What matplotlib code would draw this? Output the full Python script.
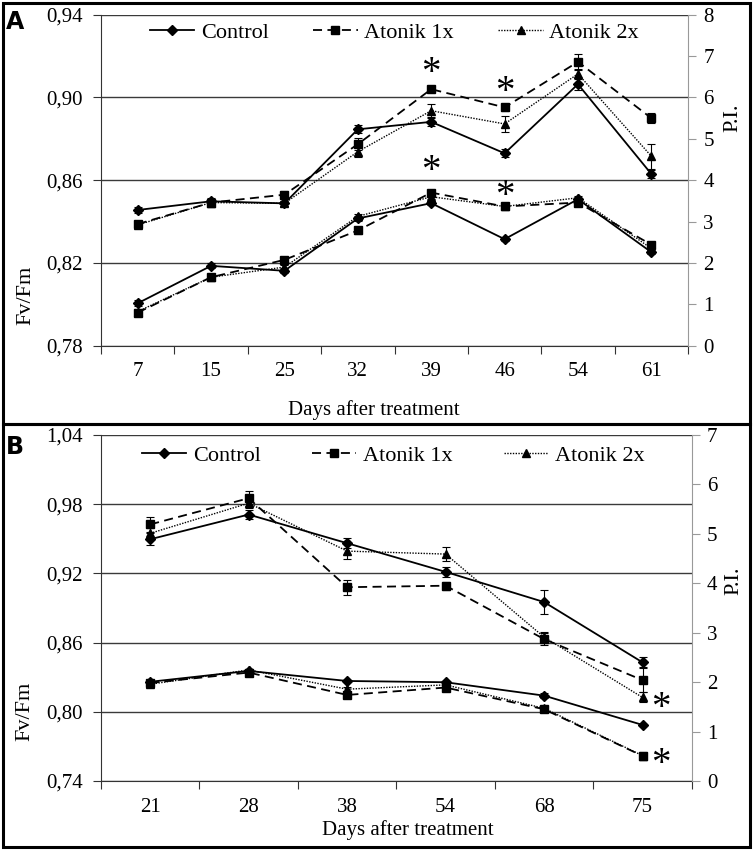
import matplotlib
matplotlib.use("Agg")
import matplotlib.pyplot as plt
from matplotlib.lines import Line2D
from matplotlib.patches import Rectangle
import numpy as np

plt.rcParams['font.family'] = ['Liberation Serif', 'DejaVu Serif']

# ---- panel A data ----
days_a = [7, 15, 25, 32, 39, 46, 54, 61]
# Fv/Fm (left axis)
fv_a_ctrl = [0.8005, 0.8186, 0.8162, 0.8415, 0.8489, 0.8315, 0.8508, 0.8252]
fv_a_1x = [0.7960, 0.8131, 0.8215, 0.8357, 0.8540, 0.8473, 0.8492, 0.8288]
fv_a_2x = [0.7965, 0.8131, 0.8180, 0.8425, 0.8520, 0.8473, 0.8515, 0.8270]
fv_a_ctrl_err = [0.0015, 0.0012, 0.0012, 0.0012, 0.0010, 0.0008, 0.0008, 0.0008]
fv_a_1x_err = [0.0012, 0.0010, 0.0012, 0.0015, 0.0008, 0.0008, 0.0008, 0.0008]
fv_a_2x_err = [0.0012, 0.0010, 0.0010, 0.0012, 0.0010, 0.0008, 0.0008, 0.0008]
# P.I. (right axis)
pi_a_ctrl = [3.28, 3.49, 3.44, 5.23, 5.41, 4.65, 6.32, 4.15]
pi_a_1x = [2.94, 3.46, 3.65, 4.87, 6.20, 5.76, 6.86, 5.50]
pi_a_2x = [2.92, 3.46, 3.44, 4.69, 5.68, 5.36, 6.57, 4.58]
pi_a_ctrl_err = [0.08, 0.08, 0.06, 0.10, 0.10, 0.10, 0.15, 0.10]
pi_a_1x_err = [0.06, 0.08, 0.08, 0.15, 0.07, 0.08, 0.20, 0.12]
pi_a_2x_err = [0.06, 0.06, 0.06, 0.12, 0.15, 0.20, 0.12, 0.30]

# ---- panel B data ----
days_b = [21, 28, 38, 54, 68, 75]
fv_b_ctrl = [0.8260, 0.8354, 0.8267, 0.8256, 0.8140, 0.7886]
fv_b_1x = [0.8250, 0.8340, 0.8146, 0.8210, 0.8022, 0.7617]
fv_b_2x = [0.8239, 0.8363, 0.8196, 0.8233, 0.8030, 0.7620]
fv_b_ctrl_err = [0.0015, 0.0012, 0.0010, 0.0010, 0.0020, 0.0012]
fv_b_1x_err = [0.0015, 0.0012, 0.0015, 0.0015, 0.0025, 0.0030]
fv_b_2x_err = [0.0015, 0.0012, 0.0015, 0.0012, 0.0020, 0.0020]
pi_b_ctrl = [4.89, 5.39, 4.81, 4.23, 3.62, 2.40]
pi_b_1x = [5.19, 5.72, 3.92, 3.95, 2.87, 2.04]
pi_b_2x = [5.01, 5.62, 4.65, 4.59, 2.91, 1.69]
pi_b_ctrl_err = [0.12, 0.10, 0.10, 0.10, 0.25, 0.10]
pi_b_1x_err = [0.15, 0.15, 0.15, 0.08, 0.12, 0.25]
pi_b_2x_err = [0.10, 0.10, 0.15, 0.15, 0.10, 0.10]

labels = ['Control', 'Atonik 1x', 'Atonik 2x']
markers = ['D', 's', '^']
msizes = [5, 5.5, 6]
styles = ['-', (0, (5, 3)), (0, (1, 1))]
widths = [1.3, 1.3, 1.0]

fig = plt.figure(figsize=(7.56, 8.5), dpi=100)


def draw_panel(rect, days, fv, fv_err, pi, pi_err, fv_ticks, pi_max, legend_xy,
               colspace, fvlab_xy, pilab_xy, xlab_xy):
    ax = fig.add_axes(rect)
    ax2 = ax.twinx()
    x = np.arange(len(days))
    for i in range(3):
        ax.plot(x, fv[i], color='black', linestyle=styles[i], linewidth=widths[i],
                marker=markers[i], markersize=msizes[i], zorder=3)
        ax.errorbar(x, fv[i], yerr=fv_err[i], fmt='none', ecolor='black',
                    elinewidth=0.8, capsize=3, capthick=0.8, zorder=3)
        ax2.plot(x, pi[i], color='black', linestyle=styles[i], linewidth=widths[i],
                 marker=markers[i], markersize=msizes[i], zorder=3)
        ax2.errorbar(x, pi[i], yerr=pi_err[i], fmt='none', ecolor='black',
                     elinewidth=0.8, capsize=3, capthick=0.8, zorder=3)

    ax.set_xlim(-0.5, len(days) - 0.5)
    ax.set_ylim(fv_ticks[0], fv_ticks[-1])
    ax.set_yticks(fv_ticks)
    ax.set_yticklabels([f"{t:.2f}".replace('.', ',') for t in fv_ticks])
    ax.yaxis.grid(True, color='#3a3a3a', linewidth=1.0)
    ax.set_axisbelow(True)
    ax.set_xticks(np.arange(len(days) + 1) - 0.5)
    ax.set_xticklabels([])
    ax.set_xticks(x, minor=True)
    ax.set_xticklabels([str(d) for d in days], minor=True)
    ax.tick_params(axis='x', which='major', length=6, direction='out', color='#333333')
    ax.tick_params(axis='x', which='minor', length=0, pad=12, labelsize=15)
    ax.tick_params(axis='y', length=6, color='#333333', labelsize=15, pad=7)
    for s in ['top', 'right']:
        ax.spines[s].set_visible(False)
    ax.spines['left'].set_color('#333333')
    ax.spines['bottom'].set_color('#333333')

    ax2.set_ylim(0, pi_max)
    ax2.set_yticks(range(0, pi_max + 1))
    ax2.tick_params(axis='y', length=6, color='#999999', labelsize=15, pad=5)
    for s in ['top', 'left', 'bottom']:
        ax2.spines[s].set_visible(False)
    ax2.spines['right'].set_color('#999999')

    ax.set_ylabel('Fv/Fm', fontsize=16)
    ax.yaxis.set_label_coords(*fvlab_xy)
    ax2.set_ylabel('P.I.', fontsize=16)
    ax2.yaxis.set_label_coords(*pilab_xy)
    ax.set_xlabel('Days after treatment', fontsize=15)
    ax.xaxis.set_label_coords(*xlab_xy)
    ax.xaxis.label.set_va('center')

    handles = [Line2D([], [], color='black', linestyle=styles[i], linewidth=widths[i],
                      marker=markers[i], markersize=msizes[i]) for i in range(3)]
    ax2.legend(handles, labels, loc='center left', bbox_to_anchor=legend_xy,
               ncol=3, frameon=False, fontsize=16, handlelength=2.0,
               columnspacing=colspace, handletextpad=0.3)
    return ax, ax2


ax_a, ax_a2 = draw_panel([0.1336, 0.5933, 0.7765, 0.3894], days_a,
                         [fv_a_ctrl, fv_a_1x, fv_a_2x],
                         [fv_a_ctrl_err, fv_a_1x_err, fv_a_2x_err],
                         [pi_a_ctrl, pi_a_1x, pi_a_2x],
                         [pi_a_ctrl_err, pi_a_1x_err, pi_a_2x_err],
                         np.round(np.arange(0.78, 0.9401, 0.04), 2), 8,
                         (0.049, 0.945), 2.0,
                         (-0.112, 0.153), (1.061, 0.688), (0.464, -0.194))

ax_b, ax_b2 = draw_panel([0.1336, 0.0812, 0.7814, 0.4071], days_b,
                         [fv_b_ctrl, fv_b_1x, fv_b_2x],
                         [fv_b_ctrl_err, fv_b_1x_err, fv_b_2x_err],
                         [pi_b_ctrl, pi_b_1x, pi_b_2x],
                         [pi_b_ctrl_err, pi_b_1x_err, pi_b_2x_err],
                         np.round(np.arange(0.74, 1.0401, 0.06), 2), 7,
                         (0.035, 0.94), 2.3,
                         (-0.112, 0.202), (1.055, 0.58), (0.52, -0.142))

# significance asterisks
star = dict(fontsize=28, ha='center', va='center', textcoords='offset points')
ax_a2.annotate('*', xy=(4, pi_a_1x[4]), xytext=(0, 11), **star)
ax_a2.annotate('*', xy=(5, pi_a_1x[5]), xytext=(0, 11), **star)
ax_a.annotate('*', xy=(4, fv_a_1x[4]), xytext=(0, 15), **star)
ax_a.annotate('*', xy=(5, fv_a_1x[5]), xytext=(0, 7), **star)
ax_b2.annotate('*', xy=(5, pi_b_2x[5]), xytext=(13, -8), **star)
ax_b.annotate('*', xy=(5, fv_b_1x[5]), xytext=(13, -6), **star)

# panel letters and frames
fig.text(0.008, 0.988, 'A', fontsize=17, fontweight='bold', family='DejaVu Sans',
         va='top', ha='left')
fig.text(0.008, 0.488, 'B', fontsize=17, fontweight='bold', family='DejaVu Sans',
         va='top', ha='left')
fig.patches.append(Rectangle((0.004, 0.501), 0.988, 0.496, transform=fig.transFigure,
                             fill=False, edgecolor='black', linewidth=2.2))
fig.patches.append(Rectangle((0.004, 0.003), 0.988, 0.498, transform=fig.transFigure,
                             fill=False, edgecolor='black', linewidth=2.2))

plt.savefig("out.png", dpi=100)
